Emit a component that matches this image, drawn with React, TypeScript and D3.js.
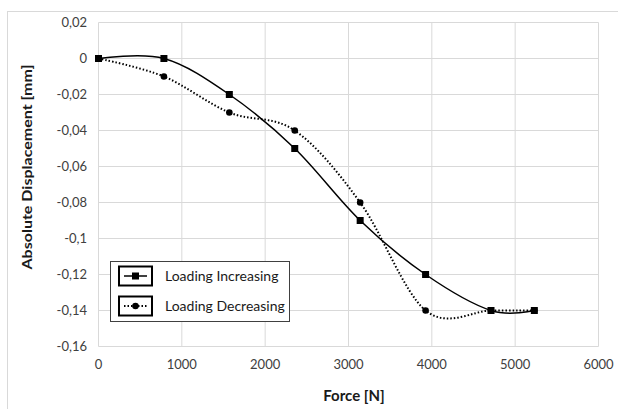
import React from "react";
import * as d3 from "d3";

const forces = [0, 785, 1570, 2355, 3140, 3925, 4710, 5230];
const increasing = [0, 0, -0.02, -0.05, -0.09, -0.12, -0.14, -0.14];
const decreasing = [0, -0.01, -0.03, -0.04, -0.08, -0.14, -0.14, -0.14];
const xTicks = [0, 1000, 2000, 3000, 4000, 5000, 6000];
const yTicks = [0.02, 0, -0.02, -0.04, -0.06, -0.08, -0.1, -0.12, -0.14, -0.16];
const seriesNames = ["Loading Increasing", "Loading Decreasing"];

const W = 618, H = 409;
const L = 98.5, R = 598.5, T = 22.5, B = 346.5;
const font = "Lato, 'Open Sans', sans-serif";

const fmt = (v: number) => {
  if (Math.abs(v) < 1e-9) return "0";
  return String(+v.toFixed(2)).replace(".", ",");
};

export default function App() {
  const x = d3.scaleLinear().domain([0, 6000]).range([L, R]);
  const y = d3.scaleLinear().domain([-0.16, 0.02]).range([B, T]);
  const line = d3
    .line<[number, number]>()
    .x((d) => x(d[0]))
    .y((d) => y(d[1]))
    .curve(d3.curveCardinal.tension(0));
  const inc: [number, number][] = forces.map((f, i) => [f, increasing[i]]);
  const dec: [number, number][] = forces.map((f, i) => [f, decreasing[i]]);

  return (
    <svg
      width={W}
      height={H}
      style={{ position: "absolute", left: 0, top: 0, background: "#fff" }}
    >
      <rect x={7.5} y={11.5} width={640} height={420} fill="#fff" stroke="#d9d9d9" />
      {xTicks.map((t) => (
        <line key={"gx" + t} x1={x(t)} x2={x(t)} y1={T} y2={B} stroke="#d9d9d9" strokeWidth={1} />
      ))}
      {yTicks.map((t) => (
        <line key={"gy" + t} x1={L} x2={R} y1={y(t)} y2={y(t)} stroke="#d9d9d9" strokeWidth={1} />
      ))}
      {yTicks.map((t) => (
        <text key={"ly" + t} x={87} y={y(t)} dy="0.35em" textAnchor="end" fontFamily={font} fontSize={13} fill="#404040">
          {fmt(t)}
        </text>
      ))}
      {xTicks.map((t) => (
        <text key={"lx" + t} x={x(t)} y={364} dy="0.35em" textAnchor="middle" fontFamily={font} fontSize={13} fill="#404040">
          {t}
        </text>
      ))}
      <text x={354} y={401} textAnchor="middle" fontFamily={font} fontSize={15} fontWeight="bold" fill="#1a1a1a">
        Force [N]
      </text>
      <text
        transform={`translate(32, 167) rotate(-90)`}
        textAnchor="middle"
        fontFamily={font}
        fontSize={14}
        fontWeight="bold"
        fill="#1a1a1a"
        textLength={205}
        lengthAdjust="spacingAndGlyphs"
      >
        Absolute Displacement [mm]
      </text>

      <path d={line(dec) || ""} fill="none" stroke="#000" strokeWidth={2} strokeDasharray="1.5,2" />
      <path d={line(inc) || ""} fill="none" stroke="#000" strokeWidth={1.5} />
      {dec.map((d, i) => (
        <circle key={"c" + i} cx={x(d[0])} cy={y(d[1])} r={3.3} fill="#000" />
      ))}
      {inc.map((d, i) => (
        <rect key={"s" + i} x={x(d[0]) - 3.5} y={y(d[1]) - 3.5} width={7} height={7} fill="#000" />
      ))}

      <g>
        <rect x={110.5} y={261.5} width={179} height={60} fill="#fff" stroke="#404040" strokeWidth={1} />
        <rect x={119} y={266.5} width={33} height={19} fill="#fff" stroke="#000" strokeWidth={2} />
        <line x1={124} x2={147} y1={276} y2={276} stroke="#000" strokeWidth={1.5} />
        <rect x={132} y={272.5} width={7} height={7} fill="#000" />
        <text x={165} y={276} dy="0.35em" fontFamily={font} fontSize={14} fill="#1a1a1a">
          {seriesNames[0]}
        </text>
        <rect x={119} y={296.5} width={33} height={19} fill="#fff" stroke="#000" strokeWidth={2} />
        <line x1={124} x2={147} y1={306} y2={306} stroke="#000" strokeWidth={2} strokeDasharray="1.5,2" />
        <circle cx={135.5} cy={306} r={3.3} fill="#000" />
        <text x={165} y={306} dy="0.35em" fontFamily={font} fontSize={14} fill="#1a1a1a">
          {seriesNames[1]}
        </text>
      </g>
    </svg>
  );
}
